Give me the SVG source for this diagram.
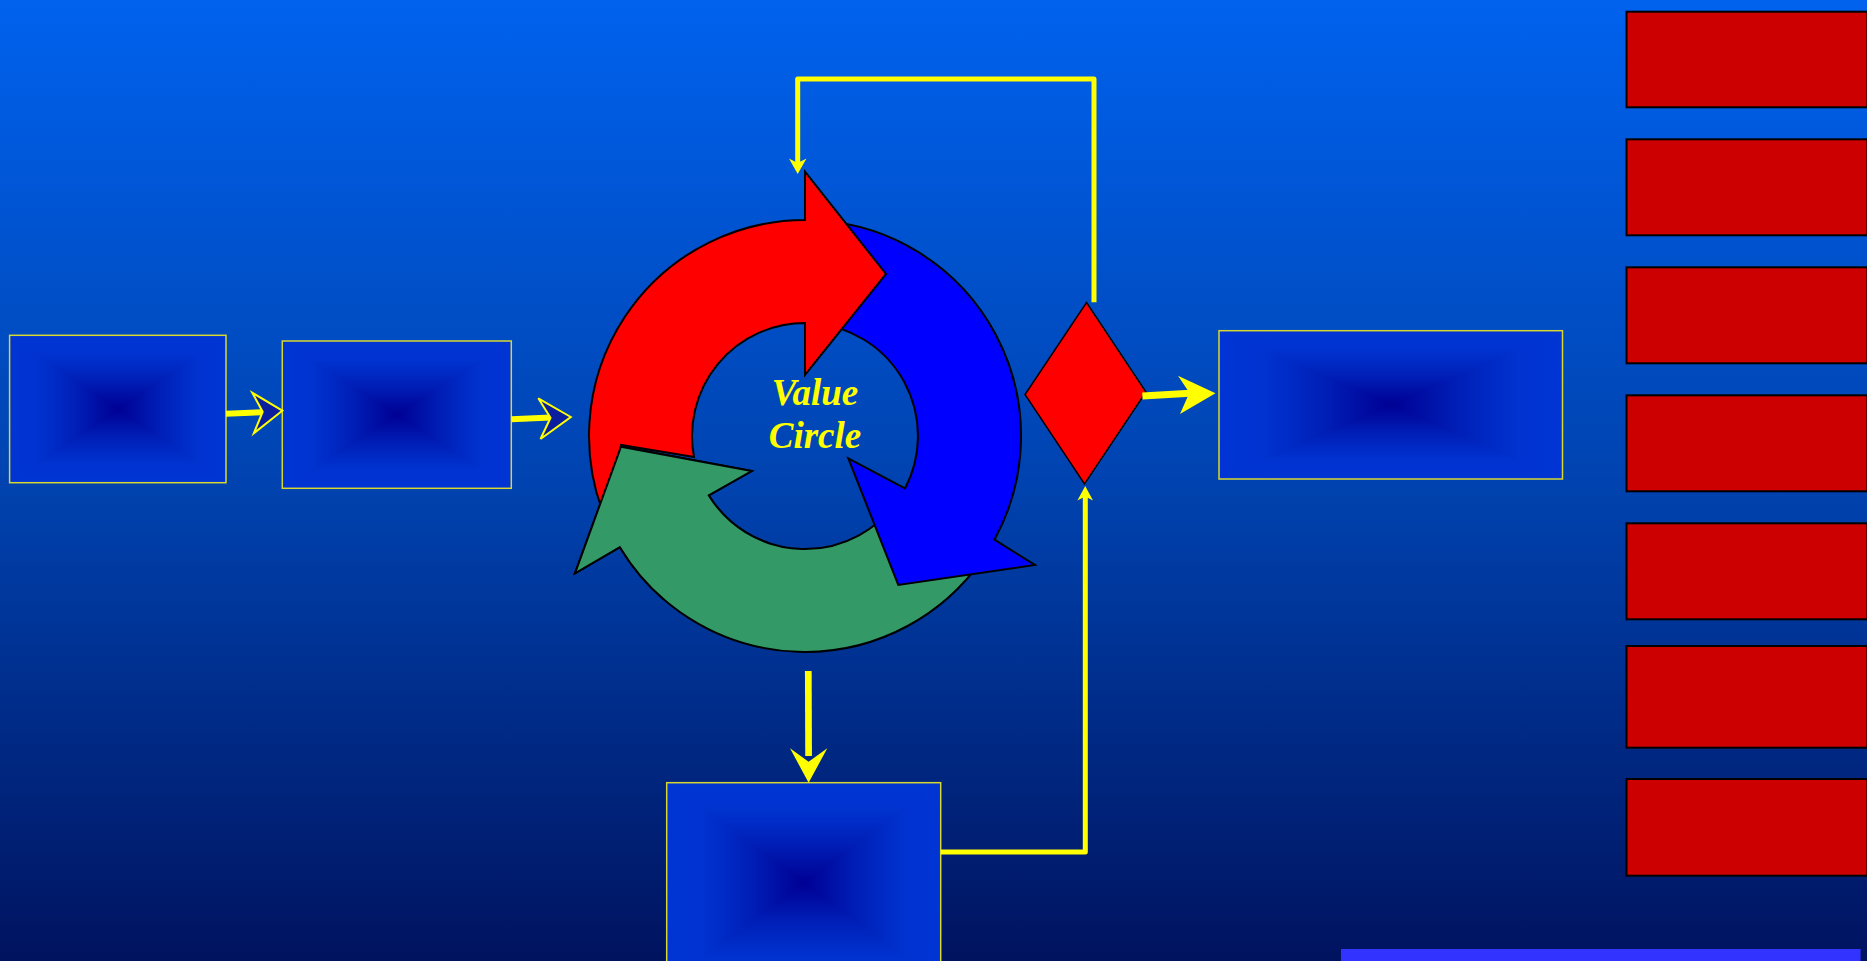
<svg xmlns="http://www.w3.org/2000/svg" width="1867" height="961" viewBox="0 0 1867 961">
  <defs>
    <linearGradient id="bg" x1="0" y1="0" x2="0" y2="1">
      <stop offset="0" stop-color="#0062EE"/>
      <stop offset="0.5" stop-color="#0043B0"/>
      <stop offset="1" stop-color="#00135F"/>
    </linearGradient>
    <linearGradient id="gh" x1="0" y1="0" x2="1" y2="0">
      <stop offset="0" stop-color="#0034D4"/>
      <stop offset="0.13" stop-color="#0033D0"/>
      <stop offset="0.3" stop-color="#0020B8"/>
      <stop offset="0.5" stop-color="#000094"/>
      <stop offset="0.7" stop-color="#0020B8"/>
      <stop offset="0.87" stop-color="#0033D0"/>
      <stop offset="1" stop-color="#0034D4"/>
    </linearGradient>
    <linearGradient id="gv" x1="0" y1="0" x2="0" y2="1">
      <stop offset="0" stop-color="#0034D4"/>
      <stop offset="0.13" stop-color="#0033D0"/>
      <stop offset="0.3" stop-color="#0020B8"/>
      <stop offset="0.5" stop-color="#000094"/>
      <stop offset="0.7" stop-color="#0020B8"/>
      <stop offset="0.87" stop-color="#0033D0"/>
      <stop offset="1" stop-color="#0034D4"/>
    </linearGradient>
    <clipPath id="greenHead">
      <rect x="540" y="430" width="230" height="170"/>
    </clipPath>
    <style>
      .bx { isolation: isolate; }
      .fh { fill: url(#gh); }
      .fv { fill: url(#gv); mix-blend-mode: lighten; }
      .frame { fill: none; stroke: #D8D830; stroke-width: 1.5; }
      .redbox { fill: #CC0000; stroke: #000000; stroke-width: 2; }
      .seg { stroke: #000000; stroke-width: 2; stroke-linejoin: miter; }
      .ylw { fill: none; stroke: #FFFF00; stroke-linejoin: round; }
      .yhead { fill: #FFFF00; stroke: none; }
      .chev { fill: #0A1E9E; stroke: #FFFF00; stroke-width: 2; stroke-linejoin: miter; }
      .label { font-family: "Liberation Serif", "Times New Roman", serif; font-weight: bold; font-style: italic; font-size: 37px; fill: #FFFF00; }
    </style>
  </defs>

  <rect x="0" y="0" width="1867" height="961" fill="url(#bg)"/>

  <g id="box1" class="bx">
    <rect class="fh" x="9.6" y="335.3" width="216.4" height="147.4"/>
    <rect class="fv" x="9.6" y="335.3" width="216.4" height="147.4"/>
    <rect class="frame" x="9.6" y="335.3" width="216.4" height="147.4"/>
  </g>
  <g id="box2" class="bx">
    <rect class="fh" x="282.3" y="341" width="229" height="147.3"/>
    <rect class="fv" x="282.3" y="341" width="229" height="147.3"/>
    <rect class="frame" x="282.3" y="341" width="229" height="147.3"/>
  </g>
  <g id="box-right" class="bx">
    <rect class="fh" x="1219" y="330.7" width="343.5" height="148.3"/>
    <rect class="fv" x="1219" y="330.7" width="343.5" height="148.3"/>
    <rect class="frame" x="1219" y="330.7" width="343.5" height="148.3"/>
  </g>
  <g id="box-bottom" class="bx">
    <rect class="fh" x="666.7" y="782.7" width="274" height="200"/>
    <rect class="fv" x="666.7" y="782.7" width="274" height="200"/>
    <rect class="frame" x="666.7" y="782.7" width="274" height="200"/>
  </g>

  <g id="value-circle">
    <path id="arc-green" class="seg" style="fill:#339966" d="M 981.9,559.9 A 216 216 0 0 1 619.9,547.2 L 575,573.3 L 621,446.7 L 751.7,471 L 708.8,495.4 A 113 113 0 0 0 897.6,500.8 Z"/>
    <path id="arc-blue" class="seg" style="fill:#0000FF" d="M 823.8,220.8 A 216 216 0 0 1 994.5,539.7 L 1035,565 L 898.3,585 L 848.3,458.3 L 905,488.5 A 113 113 0 0 0 814.8,323.4 Z"/>
    <path id="arc-red" class="seg" style="fill:#FF0000" d="M 606.2,520.4 A 216 216 0 0 1 805,220 L 805,171.7 L 886,274 L 805,375 L 805,323 A 113 113 0 0 0 694,457 L 621,445 Z"/>
    <path class="seg" style="fill:#339966" clip-path="url(#greenHead)" d="M 981.9,559.9 A 216 216 0 0 1 619.9,547.2 L 575,573.3 L 621,446.7 L 751.7,471 L 708.8,495.4 A 113 113 0 0 0 897.6,500.8 Z"/>
    <text class="label" x="815" y="405" text-anchor="middle">Value</text>
    <text class="label" x="815" y="448" text-anchor="middle">Circle</text>
  </g>

  <g id="decision"><polygon points="1086.5,302.5 1146,392 1084.5,484 1025,394.5" fill="#FF0000" stroke="#000000" stroke-width="1.5"/></g>

  <g id="red-boxes">
    <rect id="rb1" class="redbox" x="1626.5" y="11.7" width="241" height="95.6"/>
    <rect id="rb2" class="redbox" x="1626.5" y="139.3" width="241" height="96"/>
    <rect id="rb3" class="redbox" x="1626.5" y="267.3" width="241" height="96"/>
    <rect id="rb4" class="redbox" x="1626.5" y="395.3" width="241" height="96"/>
    <rect id="rb5" class="redbox" x="1626.5" y="523.3" width="241" height="96"/>
    <rect id="rb6" class="redbox" x="1626.5" y="646" width="241" height="101.7"/>
    <rect id="rb7" class="redbox" x="1626.5" y="779" width="241" height="96.7"/>
  </g>

  <g id="footer-bar"><rect x="1341" y="949" width="519.6" height="12" fill="#3333FF"/></g>

  <g id="connectors">
    <line class="ylw" x1="226" y1="413.7" x2="263" y2="412.2" stroke-width="6"/>
    <polygon class="chev" points="282.3,410.7 252.3,392.7 262.7,411.7 253.8,433.3"/>

    <line class="ylw" x1="511.3" y1="419.3" x2="551" y2="417.5" stroke-width="6"/>
    <polygon class="chev" points="570.8,417 538.3,398.3 550.5,417.7 540.5,439"/>

    <line class="ylw" x1="808.3" y1="671" x2="808.6" y2="756" stroke-width="6.7" style="stroke-linecap:butt"/>
    <polygon class="yhead" points="808.6,782.7 827.3,748.3 808.6,761.7 790,748.3"/>

    <polyline class="ylw" points="940.7,852 1085.3,852 1085.3,496" stroke-width="5"/>
    <polygon class="yhead" points="1085.2,486 1093,500.5 1085.2,496.5 1077.4,500.5"/>

    <polyline class="ylw" points="1094,302.3 1094,79 797.7,79 797.7,163" stroke-width="5" style="stroke-linecap:butt"/>
    <polygon class="yhead" points="797.7,174 806.5,158.5 797.7,163 789,158.5"/>

    <line class="ylw" x1="1142.4" y1="396" x2="1190" y2="393.3" stroke-width="7"/>
    <polygon class="yhead" points="1215.5,393.3 1178,375.7 1189.4,392.7 1180,414"/>
  </g>
</svg>
